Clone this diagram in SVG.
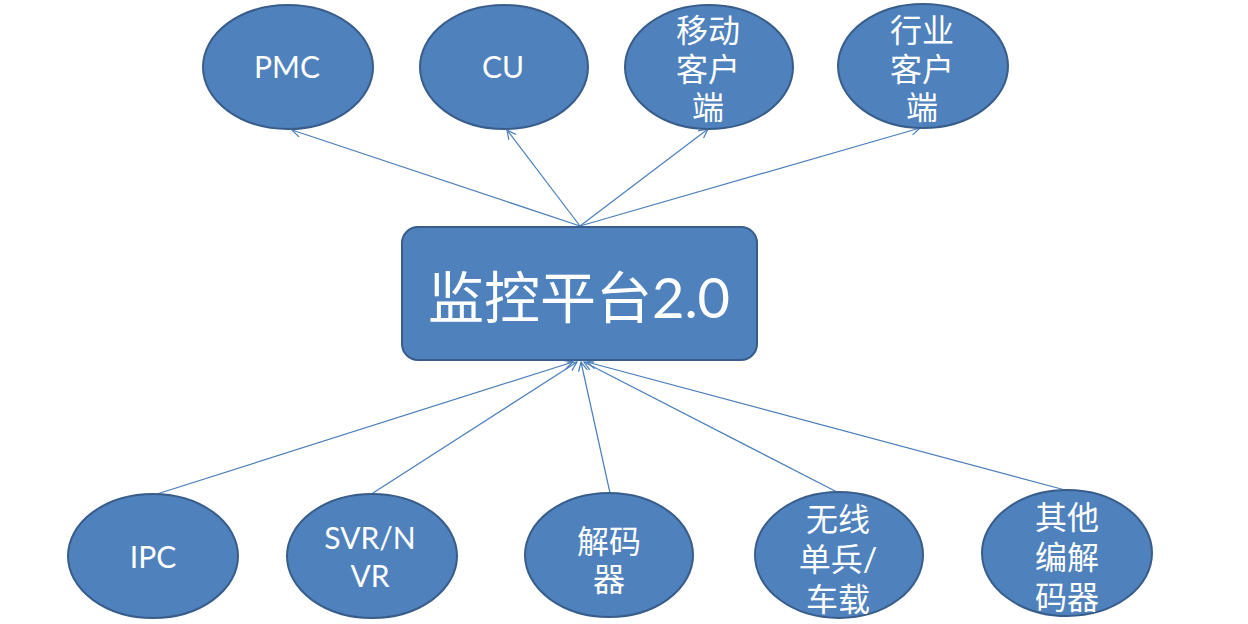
<svg xmlns="http://www.w3.org/2000/svg" width="1248" height="624" viewBox="0 0 1248 624">
<defs>
<marker id="arr" markerUnits="userSpaceOnUse" markerWidth="14" markerHeight="14" refX="10" refY="5" orient="auto">
<path d="M1,0.5 L10,5 L1,9.5" fill="none" stroke="#4A7EBB" stroke-width="1.2"/>
</marker>
<style>
.n{fill:#4F81BD;stroke:#385D8A;stroke-width:2}
.t{fill:#FFFFFF;font-family:"Lato","Noto Sans CJK SC",sans-serif;font-size:30px;text-anchor:middle}
.cj{font-size:32px}
.big{font-size:56px}
.c{stroke:#4A7EBB;stroke-width:1.2;fill:none;marker-end:url(#arr)}
</style>
</defs>
<rect width="1248" height="624" fill="#FFFFFF"/>
<g id="connectors">
<line class="c" x1="580" y1="226" x2="292" y2="130"/>
<line class="c" x1="580" y1="226" x2="507" y2="130"/>
<line class="c" x1="580" y1="226" x2="708" y2="129"/>
<line class="c" x1="580" y1="226" x2="920" y2="128"/>
<line class="c" x1="157" y1="494" x2="573" y2="362"/>
<line class="c" x1="373" y1="493" x2="577" y2="362"/>
<line class="c" x1="610" y1="493" x2="581" y2="362"/>
<line class="c" x1="837" y1="492" x2="584" y2="362"/>
<line class="c" x1="1065" y1="490" x2="587" y2="362"/>
</g>
<g id="pmc">
<ellipse class="n" cx="288" cy="67" rx="85" ry="62"/>
<text class="t" x="287" y="78">PMC</text>
</g>
<g id="cu">
<ellipse class="n" cx="504" cy="67" rx="84" ry="62"/>
<text class="t" x="503" y="78">CU</text>
</g>
<g id="mobile">
<ellipse class="n" cx="709" cy="67" rx="84" ry="62"/>
<text class="t cj" x="708" y="42">移动</text>
<text class="t cj" x="708" y="81">客户</text>
<text class="t cj" x="708" y="119">端</text>
</g>
<g id="industry">
<ellipse class="n" cx="923" cy="66" rx="85" ry="62"/>
<text class="t cj" x="922" y="42">行业</text>
<text class="t cj" x="922" y="81">客户</text>
<text class="t cj" x="922" y="119">端</text>
</g>
<g id="platform">
<rect class="n" x="402" y="227" width="355" height="133" rx="16" ry="16"/>
<text class="t big" x="579" y="318">监控平台2.0</text>
</g>
<g id="ipc">
<ellipse class="n" cx="153" cy="556" rx="85" ry="62"/>
<text class="t" x="153" y="568">IPC</text>
</g>
<g id="svr">
<ellipse class="n" cx="372" cy="556" rx="85" ry="62"/>
<text class="t" x="370" y="549">SVR/N</text>
<text class="t" x="370" y="587">VR</text>
</g>
<g id="decoder">
<ellipse class="n" cx="609" cy="555" rx="84" ry="62"/>
<text class="t cj" x="609" y="553">解码</text>
<text class="t cj" x="609" y="591">器</text>
</g>
<g id="wireless">
<ellipse class="n" cx="839" cy="555" rx="84" ry="63"/>
<text class="t cj" x="838" y="531">无线</text>
<text class="t cj" x="838" y="571">单兵/</text>
<text class="t cj" x="838" y="611">车载</text>
</g>
<g id="other">
<ellipse class="n" cx="1067" cy="553" rx="85" ry="63"/>
<text class="t cj" x="1067" y="529">其他</text>
<text class="t cj" x="1067" y="569">编解</text>
<text class="t cj" x="1067" y="609">码器</text>
</g>
</svg>
